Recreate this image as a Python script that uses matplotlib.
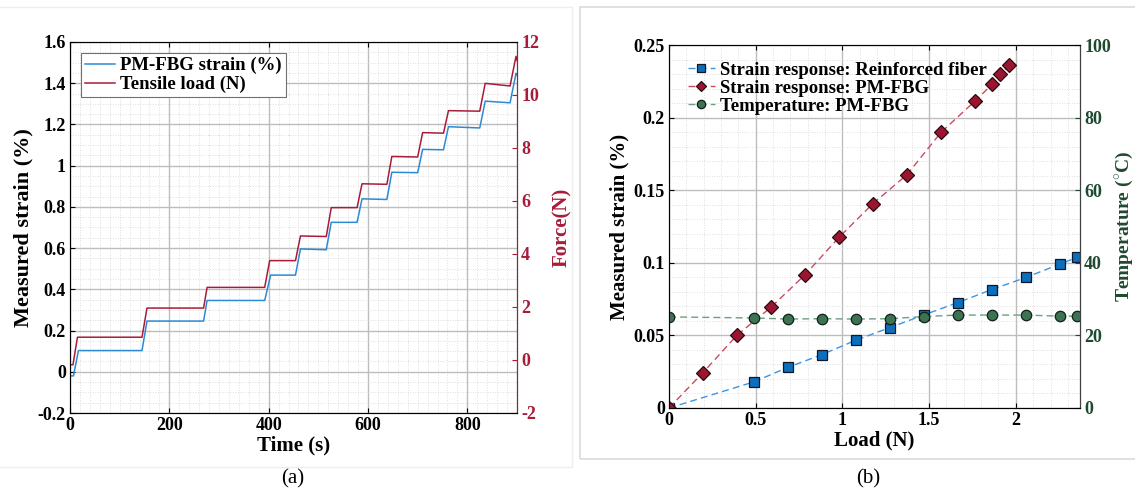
import numpy as np
import matplotlib
matplotlib.use("Agg")
import matplotlib.pyplot as plt
from matplotlib.patches import Rectangle
from matplotlib.ticker import MultipleLocator, FuncFormatter

# -- Data -------------------------------------------------------------
# (a) step-loading test: breakpoints of the recorded traces
t_strain = [0, 7, 17, 145, 155, 269, 276, 392, 404, 454, 464, 516, 526,
            578, 588, 638, 648, 700, 710, 752, 762, 825, 836, 886, 898, 900]
strain = [-0.02, -0.02, 0.103, 0.103, 0.246, 0.246, 0.346, 0.346, 0.469,
          0.469, 0.596, 0.592, 0.725, 0.725, 0.839, 0.836, 0.968, 0.966,
          1.079, 1.077, 1.189, 1.183, 1.313, 1.305, 1.448, 1.44]
t_force = [0, 6, 15, 145, 155, 269, 276, 392, 402, 454, 464, 516, 526,
           578, 588, 638, 648, 700, 710, 752, 762, 825, 836, 886, 898, 900]
force = [-0.18, -0.18, 0.86, 0.86, 1.96, 1.96, 2.74, 2.74, 3.75, 3.75,
         4.68, 4.66, 5.75, 5.75, 6.65, 6.63, 7.68, 7.66, 8.58, 8.56, 9.41,
         9.39, 10.44, 10.34, 11.46, 11.3]

# (b) strain / temperature vs load
load_rf = [0, 0.49, 0.686, 0.882, 1.078, 1.274, 1.47, 1.666, 1.862,
           2.058, 2.254, 2.352]
strain_rf = [0, 0.018, 0.028, 0.0368, 0.0467, 0.0554, 0.0641, 0.0726,
             0.0816, 0.0899, 0.0991, 0.1037]
load_pm = [0, 0.196, 0.392, 0.588, 0.784, 0.98, 1.176, 1.372, 1.568,
           1.764, 1.862, 1.911, 1.96]
strain_pm = [0, 0.0244, 0.0501, 0.0694, 0.0917, 0.1175, 0.1408, 0.1606,
             0.1898, 0.2113, 0.2228, 0.2297, 0.2362]
temp_pm = [25.1, 24.8, 24.5, 24.6, 24.5, 24.6, 25.2, 25.6, 25.6, 25.6,
           25.3, 25.3]

# -- Style -------------------------------------------------------------
plt.rcParams['font.family'] = ['Liberation Serif', 'DejaVu Serif']
plt.rcParams['font.weight'] = 'bold'
plt.rcParams['axes.unicode_minus'] = False
plt.rcParams['mathtext.fontset'] = 'custom'
plt.rcParams['mathtext.rm'] = 'Liberation Serif:bold'
plt.rcParams['mathtext.bf'] = 'Liberation Serif:bold'

BLUE = '#2b8ad6'
CRIMSON = '#a81c38'
SQ_BLUE = '#0b6fbd'
DIAMOND = '#9c1430'
GREEN = '#3e7352'
DKGREEN = '#1f4a30'
TICK = 13
LABEL = 15
LEG = 13.5

fmt = FuncFormatter(lambda v, p: f"{v:g}")


def style_grid(ax):
    ax.grid(True, which='major', color='#bdbdbd', lw=1.0, ls='-')
    ax.grid(True, which='minor', color='#d4d4d4', lw=0.6, ls=(0, (1, 2)))
    ax.set_axisbelow(True)


fig = plt.figure(figsize=(11.35, 4.97), dpi=100)

# faint panel frames
fig.patches.append(Rectangle((-0.01, 1 - 467 / 497), 572 / 1135 + 0.01,
                             460 / 497, transform=fig.transFigure,
                             fill=False, ec='#eeeeee', lw=1))
fig.patches.append(Rectangle((580 / 1135, 1 - 459 / 497), 0.6,
                             452 / 497, transform=fig.transFigure,
                             fill=False, ec='#dadada', lw=1.2))

# -- Panel (a) ---------------------------------------------------------
ax1 = fig.add_axes([70 / 1135, 1 - 413 / 497, 447 / 1135, 371 / 497])
ax1.plot(t_strain, strain, color=BLUE, lw=1.1, label='PM-FBG strain (%)')
ax1.set_xlim(0, 900)
ax1.set_ylim(-0.2, 1.6)
ax1.xaxis.set_major_locator(MultipleLocator(200))
ax1.xaxis.set_minor_locator(MultipleLocator(20))
ax1.yaxis.set_major_locator(MultipleLocator(0.2))
ax1.yaxis.set_minor_locator(MultipleLocator(0.05))
ax1.yaxis.set_major_formatter(fmt)
style_grid(ax1)
ax1.tick_params(which='both', direction='in', labelsize=TICK, top=True,
                pad=3)
ax1.tick_params(which='minor', length=0)
ax1.set_xlabel('Time (s)', fontsize=LABEL, fontweight='bold', labelpad=1)
ax1.set_ylabel('Measured strain (%)', fontsize=LABEL + 1,
               fontweight='bold', labelpad=3)
for s in ('left', 'bottom', 'top'):
    ax1.spines[s].set_color('#404040')

ax1b = ax1.twinx()
ax1b.plot(t_force, force, color=CRIMSON, lw=1.1, label='Tensile load (N)')
ax1b.set_ylim(-2, 12)
ax1b.yaxis.set_major_locator(MultipleLocator(2))
ax1b.tick_params(axis='y', direction='in', colors=CRIMSON, labelsize=TICK,
                 pad=3)
ax1b.spines['right'].set_color(CRIMSON)
ax1b.set_ylabel('Force(N)', fontsize=LABEL, fontweight='bold',
                color=CRIMSON, labelpad=9)
h1, l1 = ax1.get_legend_handles_labels()
h2, l2 = ax1b.get_legend_handles_labels()
leg = ax1b.legend(h1 + h2, l1 + l2, loc='upper left', fontsize=LEG,
                  frameon=True, fancybox=False, edgecolor='#707070',
                  framealpha=1, handlelength=1.6, handletextpad=0.3,
                  borderpad=0.2, labelspacing=0.1, borderaxespad=0.3,
                  bbox_to_anchor=(0.012, 0.985))
leg.get_frame().set_linewidth(0.8)

# -- Panel (b) ---------------------------------------------------------
ax2 = fig.add_axes([669 / 1135, 1 - 408 / 497, 411 / 1135, 363 / 497])
ax2.plot(load_rf, strain_rf, ls=(0, (5, 3)), color='#3d95e0', lw=1.0,
         marker='s', ms=6.5, mfc=SQ_BLUE, mec='#101828', mew=0.9,
         label='Strain response: Reinforced fiber')
ax2.plot(load_pm, strain_pm, ls=(0, (5, 3)), color='#cc4a60', lw=1.0,
         marker='D', ms=7, mfc=DIAMOND, mec='#2a0a10', mew=0.9,
         label='Strain response: PM-FBG')
ax2.set_xlim(0, 2.37)
ax2.set_ylim(0, 0.25)
ax2.xaxis.set_major_locator(MultipleLocator(0.5))
ax2.xaxis.set_minor_locator(MultipleLocator(0.1))
ax2.yaxis.set_major_locator(MultipleLocator(0.05))
ax2.yaxis.set_minor_locator(MultipleLocator(0.01))
ax2.xaxis.set_major_formatter(fmt)
ax2.yaxis.set_major_formatter(fmt)
style_grid(ax2)
ax2.tick_params(which='both', direction='in', labelsize=TICK, top=True,
                pad=3)
ax2.tick_params(which='minor', length=0)
ax2.set_xlabel('Load (N)', fontsize=LABEL, fontweight='bold', labelpad=1)
ax2.set_ylabel('Measured strain (%)', fontsize=LABEL, fontweight='bold',
               labelpad=3)
for s in ('left', 'bottom', 'top'):
    ax2.spines[s].set_color('#404040')

ax2b = ax2.twinx()
ax2b.plot(load_rf, temp_pm, ls=(0, (5, 3)), color='#6aa080', lw=1.0,
          marker='o', ms=7.5, mfc=GREEN, mec='#102018', mew=0.9,
          label='Temperature: PM-FBG')
ax2b.set_ylim(0, 100)
ax2b.yaxis.set_major_locator(MultipleLocator(20))
ax2b.tick_params(axis='y', direction='in', colors=DKGREEN, labelsize=TICK,
                 pad=3)
ax2b.spines['right'].set_color('#404040')
ax2b.set_ylabel(r'Temperature ($^{\circ}$C)', fontsize=LABEL - 1,
                fontweight='bold', color=DKGREEN, labelpad=2)
h1, l1 = ax2.get_legend_handles_labels()
h2, l2 = ax2b.get_legend_handles_labels()
ax2b.legend(h1 + h2, l1 + l2, loc='upper left', fontsize=LEG,
            frameon=False, handlelength=1.4, handletextpad=0.3,
            borderpad=0.2, labelspacing=0.05, markerscale=0.8,
            bbox_to_anchor=(0.015, 0.99))

# -- Captions ----------------------------------------------------------
fig.text(293 / 1135, 1 - 479 / 497, '(a)', fontsize=15,
         fontweight='normal', ha='center', va='center')
fig.text(868 / 1135, 1 - 479 / 497, '(b)', fontsize=15,
         fontweight='normal', ha='center', va='center')

fig.savefig('out.png', dpi=100)
